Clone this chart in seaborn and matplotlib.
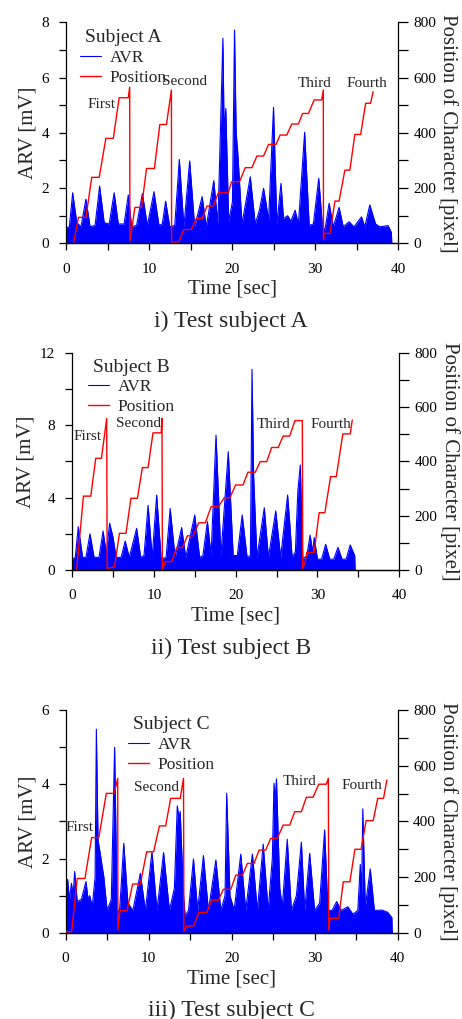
import seaborn as sns
import pandas as pd
import matplotlib.pyplot as plt
from matplotlib.ticker import MultipleLocator

# ARV envelope key points (time [sec], ARV [mV])
arv_a_t = [0, 0.4, 0.8, 1.3, 1.8, 2.4, 2.9, 3.5, 4.05, 4.6, 5.2, 5.8, 6.3, 7.0, 7.5, 7.9, 8.5, 9.2, 9.8,
           10.6, 11.2, 11.6, 12.0, 12.5, 13.1, 13.65, 14.2, 14.9, 15.5, 16.4, 16.9, 17.8, 18.3, 18.9, 19.05,
           19.25, 19.6, 20.05, 20.3, 20.5, 20.7, 21.2, 22.2, 22.8, 23.3, 23.8, 24.1, 24.4, 25.0, 25.4, 25.9,
           26.2, 26.7, 27.1, 27.6, 28.0, 28.75, 29.3, 29.8, 30.45, 30.9, 31.2, 31.7, 32.2, 32.9, 33.4, 34.1,
           34.7, 35.6, 36.0, 36.6, 37.3, 37.8, 38.8, 39.2, 39.25]
arv_a_v = [0.55, 0.6, 1.83, 0.75, 0.6, 1.6, 0.6, 0.65, 2.07, 0.75, 0.7, 1.83, 0.7, 0.7, 1.75, 0.6, 0.65, 1.8, 0.65,
           1.87, 0.65, 0.7, 1.52, 0.6, 0.65, 3.04, 0.6, 2.98, 0.6, 1.69, 0.6, 2.27, 0.7, 7.42, 4.0,
           4.88, 0.8, 1.5, 7.72, 4.0, 3.25, 0.7, 2.41, 0.7, 1.2, 1.99, 1.45, 0.8, 4.92, 0.7, 2.17,
           0.9, 1.0, 0.8, 1.2, 0.7, 4.02, 0.65, 0.7, 2.35, 0.6, 0.5, 1.45, 0.6, 1.3, 0.6, 0.78,
           0.6, 0.96, 0.6, 1.39, 0.7, 0.6, 0.64, 0.4, 0]

arv_b_t = [0, 0.4, 0.77, 1.3, 1.7, 2.2, 2.7, 3.3, 3.8, 4.2, 4.6, 5.0, 5.4, 6.0, 6.5, 7.0, 7.9, 8.4, 8.8, 9.3,
           9.8, 10.35, 10.9, 11.5, 12.0, 12.6, 13.4, 13.9, 15.0, 15.6, 16.0, 16.55, 17.0, 17.6, 18.2, 19.1,
           19.7, 20.2, 20.8, 21.4, 21.8, 22.0, 22.2, 22.6, 23.5, 24.0, 24.9, 25.5, 26.35, 26.6, 26.9, 27.3,
           27.6, 27.9, 28.2, 28.7, 29.1, 29.4, 29.6, 30.0, 30.5, 31.0, 31.5, 32.0, 32.5, 33.0, 33.5, 34.0,
           34.55, 34.6]
arv_b_v = [0.6, 0.7, 2.39, 0.7, 0.7, 2.0, 0.7, 0.7, 2.15, 0.9, 2.58, 1.84, 0.7, 0.7, 1.6, 0.7, 2.3, 0.7, 0.8, 3.57,
           0.7, 4.14, 0.6, 0.7, 3.4, 0.7, 2.34, 0.7, 3.04, 0.7, 0.8, 2.67, 0.8, 7.45, 0.8, 6.53,
           0.8, 0.8, 3.04, 0.7, 0.8, 11.08, 5.15, 0.7, 3.44, 0.7, 3.26, 0.7, 4.14, 2.67, 0.7, 1.0,
           4.36, 5.8, 0.6, 0.8, 1.93, 1.0, 1.79, 0.6, 0.6, 1.42, 0.6, 0.6, 1.25, 0.6, 0.6, 1.38,
           0.8, 0]

arv_c_t = [0, 0.24, 0.45, 0.7, 0.9, 1.08, 1.4, 1.9, 2.45, 2.7, 2.9, 3.2, 3.55, 3.7, 3.9, 4.1, 4.6, 5.0, 5.5,
           5.9, 6.2, 6.5, 7.0, 7.5, 8.1, 9.0, 9.6, 10.4, 11.0, 11.8, 12.5, 13.1, 13.45, 13.65, 13.8, 14.2,
           14.4, 14.8, 15.4, 15.9, 16.6, 17.2, 18.1, 18.7, 19.2, 19.4, 19.8, 20.3, 21.1, 21.7, 22.5, 23.1,
           23.8, 24.4, 24.9, 25.1, 25.25, 25.4, 25.8, 26.1, 26.7, 27.2, 27.8, 28.4, 28.8, 29.4, 30.0, 30.6,
           31.2, 31.6, 32.1, 32.65, 33.2, 34.0, 34.6, 35.2, 35.5, 35.65, 35.8, 36.1, 36.7, 37.2, 38.1, 38.8,
           39.3, 39.35]
arv_c_v = [1.15, 1.44, 0.9, 1.33, 1.0, 1.65, 0.84, 0.9, 1.38, 0.9, 1.0, 0.7, 1.5, 5.49, 2.5, 2.23, 1.5, 0.6, 0.9,
           5.0, 0.6, 0.6, 2.41, 0.8, 0.6, 1.6, 0.6, 2.18, 0.6, 2.16, 0.6, 1.2, 3.42, 3.1, 3.27, 1.0,
           0.45, 0.6, 1.99, 0.6, 2.08, 0.6, 1.96, 0.6, 1.0, 3.76, 1.0, 0.6, 2.12, 0.6, 2.12, 0.6,
           2.39, 0.6, 2.0, 4.03, 3.6, 4.15, 1.2, 0.7, 2.52, 0.6, 1.0, 2.44, 0.6, 2.14, 0.6, 0.8,
           2.77, 0.6, 0.6, 0.84, 0.6, 0.7, 0.5, 0.6, 1.84, 1.0, 3.34, 0.7, 1.72, 0.6, 0.61, 0.55,
           0.41, 0]

# Position of character (time [sec], pixel)
pos_a_t = [0.9, 1.5, 2.4, 3.1, 4.0, 4.8, 5.7, 6.4, 7.5, 7.67, 7.7, 8.3, 9.1, 9.7, 10.65, 11.3, 12.1, 12.7,
           12.72, 13.6, 14.2, 15.1, 15.7, 16.4, 17.0, 17.75, 18.35, 19.55, 19.95, 20.9, 21.6, 22.4, 23.0,
           23.8, 24.4, 25.3, 25.8, 26.6, 27.2, 28.0, 28.5, 29.2, 29.9, 30.8, 31.0, 31.02, 31.1, 31.8, 32.4,
           32.9, 33.6, 34.2, 34.8, 35.5, 36.1, 36.7, 37.0]
pos_a_p = [0, 94, 94, 239, 239, 380, 380, 527, 527, 565, 8, 130, 130, 271, 271, 430, 430, 555,
           5, 5, 50, 50, 90, 90, 135, 135, 183, 183, 223, 223, 274, 274, 316,
           316, 358, 358, 392, 392, 432, 432, 470, 470, 519, 519, 555, 12, 36, 36, 153,
           153, 265, 265, 394, 394, 507, 507, 549]

pos_b_t = [0.57, 1.4, 2.3, 2.9, 3.6, 4.24, 4.3, 5.2, 5.8, 6.6, 7.2, 8.0, 8.6, 9.3, 9.9, 10.9, 11.0, 11.05,
           11.4, 12.2, 12.8, 13.5, 14.1, 14.8, 15.5, 16.3, 17.0, 17.9, 18.6, 19.3, 20.0, 20.9, 21.5, 22.4,
           23.0, 23.8, 24.4, 25.2, 25.8, 26.6, 27.25, 28.15, 28.2, 28.5, 28.7, 29.6, 30.2, 30.9, 31.6, 32.3,
           33.1, 34.0, 34.25]
pos_b_p = [0, 272, 272, 411, 411, 558, 6, 12, 135, 135, 264, 264, 377, 377, 505, 505, 558, 0,
           31, 31, 83, 83, 126, 126, 174, 174, 233, 233, 266, 266, 313, 313, 360, 360,
           399, 399, 451, 451, 493, 493, 550, 550, 6, 31, 65, 65, 211, 211, 344, 344,
           501, 501, 552]

pos_c_t = [0, 0.72, 1.4, 2.33, 3.13, 4.0, 4.9, 5.86, 6.27, 6.3, 6.55, 7.4, 8.07, 9.0, 9.76, 10.6, 11.3, 12.05,
           12.65, 13.8, 14.2, 14.25, 14.6, 15.4, 16.06, 17.0, 17.6, 18.4, 19.0, 19.9, 20.5, 21.3, 21.9, 22.7,
           23.3, 24.1, 24.7, 25.5, 26.2, 27.0, 27.6, 28.4, 29.0, 29.8, 30.5, 31.4, 31.65, 31.7, 31.85, 32.9,
           33.45, 34.25, 34.85, 35.6, 36.2, 37.05, 37.6, 38.3, 38.7]
pos_c_p = [3, 3, 195, 195, 342, 342, 501, 501, 555, 10, 79, 79, 175, 175, 291, 291, 384, 384,
           483, 483, 555, 5, 24, 24, 73, 73, 117, 117, 156, 156, 207, 207, 249, 249,
           297, 297, 339, 339, 387, 387, 435, 435, 487, 487, 534, 534, 555, 10, 52, 52,
           183, 183, 300, 300, 403, 403, 483, 483, 549]

subjects = ['A', 'B', 'C']
captions = ['i) Test subject A', 'ii) Test subject B', 'iii) Test subject C']
arv_ymax = [8, 12, 6]
trial_labels = ['First', 'Second', 'Third', 'Fourth']
# label anchor points (time, ARV) for each subject
trial_pos = [
    [(4.26, 5.03), (14.3, 5.87), (30.0, 5.79), (36.2, 5.79)],
    [(1.9, 7.36), (8.1, 8.1), (24.7, 8.06), (31.6, 8.06)],
    [(1.7, 2.83), (11.0, 3.92), (28.2, 4.09), (35.7, 3.98)],
]

sns.set_style('ticks')
plt.rcParams['font.family'] = ['Liberation Serif', 'DejaVu Serif']

fig = plt.figure(figsize=(4.62, 10.19), dpi=100)
# axes rectangles in figure fractions
rects = [[0.1429, 0.7612, 0.7186, 0.2169],
         [0.1558, 0.4406, 0.7085, 0.2133],
         [0.1421, 0.0847, 0.7186, 0.2183]]
leg_anchor = [(0.042, 0.968), (0.049, 0.972), (0.188, 0.972)]
caption_y = [1 - 321 / 1019, 1 - 648 / 1019, 1 - 1010 / 1019]

arv = [(arv_a_t, arv_a_v), (arv_b_t, arv_b_v), (arv_c_t, arv_c_v)]
pos = [(pos_a_t, pos_a_p), (pos_b_t, pos_b_p), (pos_c_t, pos_c_p)]

for i in range(3):
    ax = fig.add_axes(rects[i])
    ax2 = ax.twinx()
    df_arv = pd.DataFrame({'t': arv[i][0], 'v': arv[i][1]})
    df_pos = pd.DataFrame({'t': pos[i][0], 'p': pos[i][1]})

    ax.fill_between(df_arv['t'], 0, df_arv['v'], color='blue', lw=0)
    sns.lineplot(data=df_arv, x='t', y='v', ax=ax, color='blue', lw=0.8,
                 estimator=None, sort=False, label='AVR')
    sns.lineplot(data=df_pos, x='t', y='p', ax=ax2, color='red', lw=1.0,
                 estimator=None, sort=False, label='Position')

    ax.set_xlim(0, 40)
    ax.set_ylim(0, arv_ymax[i])
    ax2.set_ylim(0, 800)
    ax.xaxis.set_major_locator(MultipleLocator(10))
    ax.xaxis.set_minor_locator(MultipleLocator(5))
    step = 4 if i == 1 else 2
    ax.yaxis.set_major_locator(MultipleLocator(step))
    ax.yaxis.set_minor_locator(MultipleLocator(step / 2))
    ax2.yaxis.set_major_locator(MultipleLocator(200))
    ax2.yaxis.set_minor_locator(MultipleLocator(100))

    for a in (ax, ax2):
        a.tick_params(which='both', direction='out', width=0.9, labelsize=11, colors='black', length=5)
        a.spines['top'].set_visible(False)
        for s in a.spines.values():
            s.set_linewidth(0.9)
            s.set_color('black')
    ax2.tick_params(which='both', length=7, pad=4)
    ax.spines['right'].set_visible(False)
    ax2.spines['left'].set_visible(False)
    ax.tick_params(axis='x', pad=9)
    ax.tick_params(axis='y', pad=7)

    ax.set_xlabel('Time [sec]', fontsize=15, labelpad=3)
    ax.set_ylabel('ARV [mV]', fontsize=15, labelpad=3)
    ax2.set_ylabel('Position of Character [pixel]', fontsize=15, rotation=270, labelpad=16)

    for lab, (tx, ty) in zip(trial_labels, trial_pos[i]):
        ax.text(tx, ty, lab, fontsize=11, ha='center', va='center')

    h1, l1 = ax.get_legend_handles_labels()
    h2, l2 = ax2.get_legend_handles_labels()
    ax.get_legend().remove()
    ax2.get_legend().remove()
    ax2.legend(h1 + h2, l1 + l2, title='Subject ' + subjects[i], title_fontsize=14, fontsize=12.5,
               loc='upper left', bbox_to_anchor=leg_anchor[i], frameon=False, borderaxespad=0,
               borderpad=0, handlelength=1.2, handletextpad=0.5, labelspacing=0.2)

    fig.text(0.5, caption_y[i], captions[i], fontsize=17, ha='center', va='center')

fig.savefig('out.png', dpi=100)
